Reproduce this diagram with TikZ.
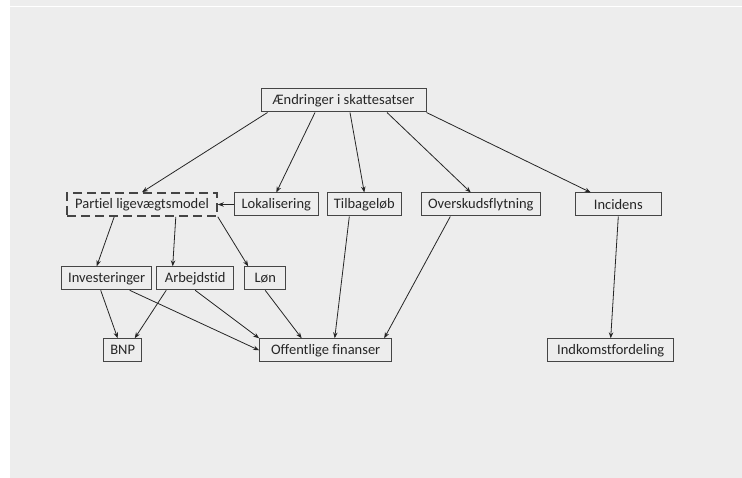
\documentclass[tikz,border=0pt]{standalone}
\usepackage{fontspec}
\setmainfont[Ligatures=NoCommon]{Carlito}
\usepackage{tikz}
\usetikzlibrary{arrows.meta, positioning}
\definecolor{bggray}{HTML}{EDEDED}
\definecolor{boxline}{HTML}{454545}
\definecolor{txt}{HTML}{262626}

\begin{document}
\begin{tikzpicture}[
  x=1pt, y=1pt,
  box/.style={rectangle, draw=boxline, line width=1pt, minimum height=23pt, inner xsep=3pt, inner ysep=0pt, align=center, text=txt, font=\fontsize{14.5}{17}\selectfont},
  dashbox/.style={box, dash pattern=on 9pt off 5pt, line width=1.6pt},
  arrow/.style={-{Stealth[length=6pt, width=4.5pt]}, line width=0.8pt, txt}
]
  \fill[white] (0,0) rectangle (742,-478);
  \fill[bggray] (10,0) rectangle (742,-6);
  \fill[bggray] (10,-7.5) rectangle (742,-478);
  \useasboundingbox (0,0) rectangle (742,-478);

  \node[box, minimum width=165pt] (aendr) at (343.5,-100.5) {Ændringer i skattesatser};

  \node[dashbox, minimum width=150pt] (partiel) at (142,-204.5) {Partiel ligevægtsmodel};
  \node[box, minimum width=84pt, right=16pt of partiel] (lokal) {Lokalisering};
  \node[box, minimum width=74pt, right=8pt of lokal] (tilbage) {Tilbageløb};
  \node[box, minimum width=119pt, right=19pt of tilbage] (oversk) {Overskudsflytning};
  \node[box, minimum width=86pt, right=34pt of oversk] (incid) {Incidens};

  \node[box, minimum width=90pt, below right=49.5pt and -5pt of partiel.south west] (invest) {Investeringer};
  \node[box, minimum width=77pt, right=4pt of invest] (arbejd) {Arbejdstid};
  \node[box, minimum width=41pt, right=10pt of arbejd] (loen) {Løn};

  \node[box, minimum width=38pt, below right=48pt and 42pt of invest.south west] (bnp) {BNP};
  \node[box, minimum width=132pt, right=117pt of bnp] (offent) {Offentlige finanser};
  \node[box, minimum width=126pt, right=155pt of offent] (indk) {Indkomstfordeling};

  \draw[arrow] ([xshift=7pt]aendr.south west) -- (partiel.north);
  \draw[arrow] ([xshift=-28.5pt]aendr.south) -- (lokal.north);
  \draw[arrow] ([xshift=6.5pt]aendr.south) -- (tilbage.north);
  \draw[arrow] ([xshift=43.5pt]aendr.south) -- ([xshift=-10pt]oversk.north);
  \draw[arrow] (aendr.south east) -- ([xshift=16pt]incid.north west);
  \draw[arrow] (lokal.west) -- (partiel.east);
  \draw[arrow] ([xshift=48pt]partiel.south west) -- ([xshift=-10pt]invest.north);
  \draw[arrow] ([xshift=-42pt]partiel.south east) -- ([xshift=-22.5pt]arbejd.north);
  \draw[arrow] (partiel.south east) -- ([xshift=4pt]loen.north west);
  \draw[arrow] ([xshift=-6pt]invest.south) -- ([xshift=-5pt]bnp.north);
  \draw[arrow] ([xshift=10pt]arbejd.south west) -- ([xshift=12pt]bnp.north);
  \draw[arrow] ([xshift=23pt]invest.south) -- (offent.west);
  \draw[arrow] (arbejd.south) -- (offent.north west);
  \draw[arrow] (loen.south) -- ([xshift=-24pt]offent.north);
  \draw[arrow] ([xshift=-15pt]tilbage.south) -- ([xshift=9pt]offent.north);
  \draw[arrow] ([xshift=-30.5pt]oversk.south) -- ([xshift=-8pt]offent.north east);
  \draw[arrow] (incid.south) -- (indk.north);
\end{tikzpicture}
\end{document}
